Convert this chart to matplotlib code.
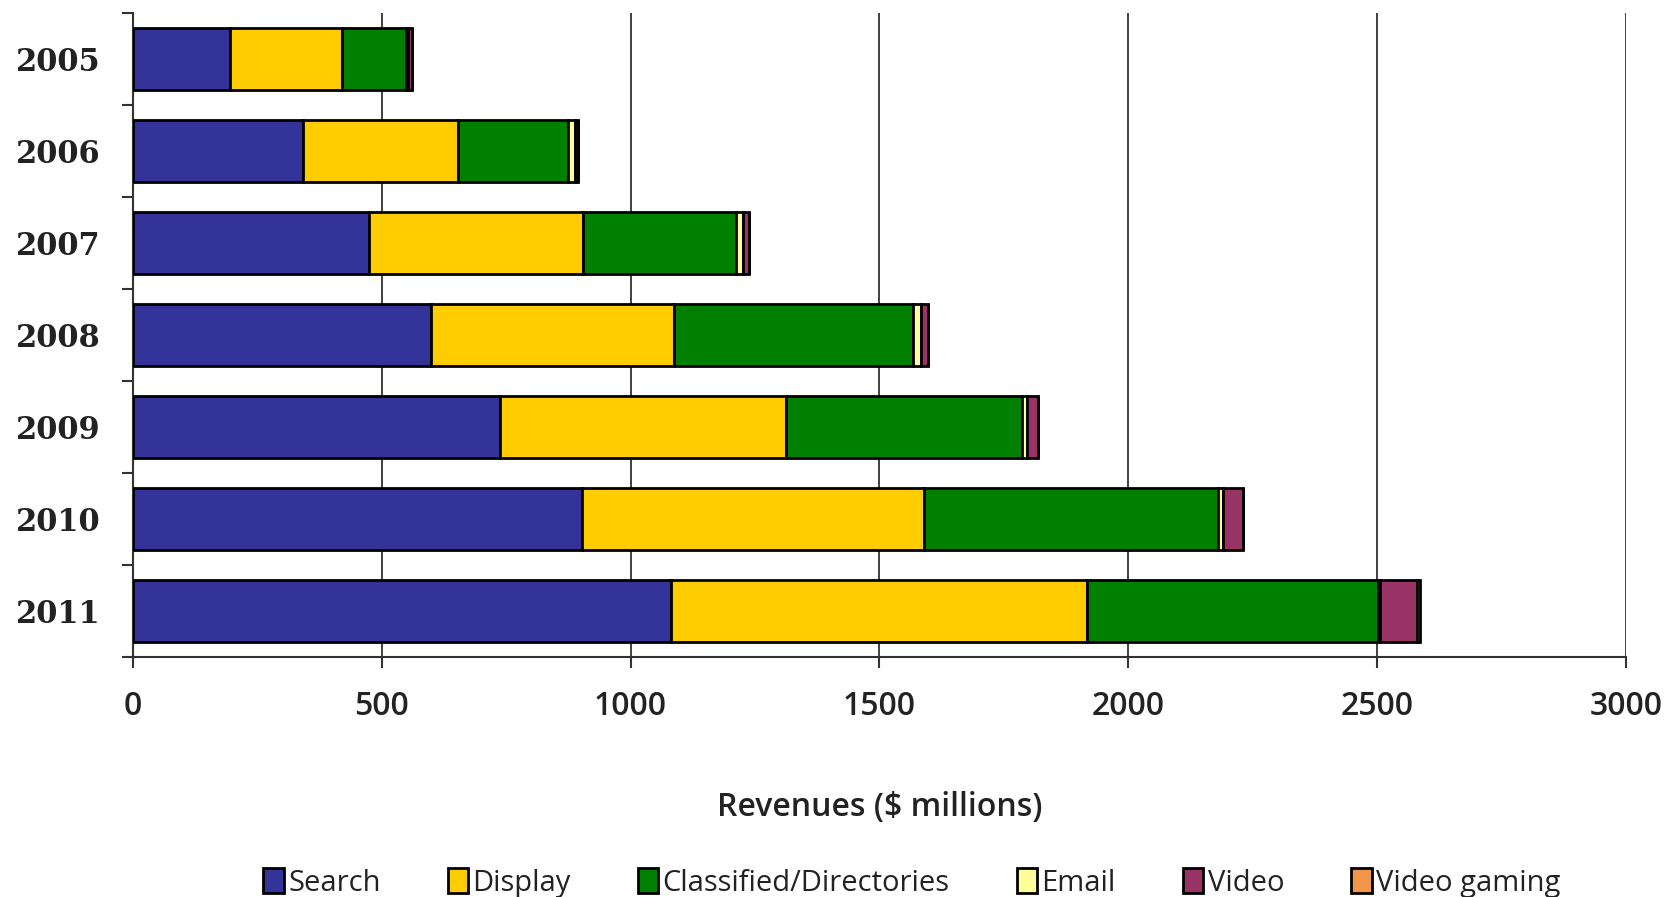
import numpy as np
import matplotlib.pyplot as plt

# revenue by segment ($ millions)
years = ['2005', '2006', '2007', '2008', '2009', '2010', '2011']
search = [195, 342, 475, 599, 738, 903, 1081]
display = [226, 311, 430, 488, 574, 687, 836]
classified = [127, 222, 306, 481, 475, 590, 584]
email = [5, 14, 14, 15, 9, 11, 4]
video = [8, 6, 12, 15, 23, 39, 75]
video_gaming = [0, 0, 0, 0, 0, 0, 6]

series = [
    ('Search', search, '#333399'),
    ('Display', display, '#FFCC00'),
    ('Classified/Directories', classified, '#008000'),
    ('Email', email, '#FFFF99'),
    ('Video', video, '#993366'),
    ('Video gaming', video_gaming, '#F0954A'),
]

fig = plt.figure(figsize=(16.7, 8.97), dpi=100)
ax = fig.add_axes([0.0796, 0.2676, 0.894, 0.718])

y = np.arange(len(years))
left = np.zeros(len(years))
handles = []
for name, vals, color in series:
    vals = np.array(vals, dtype=float)
    b = ax.barh(y, vals, left=left, height=0.67, color=color,
                edgecolor='black', linewidth=2, zorder=3, label=name)
    handles.append(b)
    left += vals

ax.set_xlim(0, 3000)
ax.set_ylim(len(years) - 0.5, -0.5)
ax.set_xticks(np.arange(0, 3001, 500))
ax.set_yticks(y)
ax.set_yticklabels(years, fontsize=22, fontweight='bold', family='DejaVu Serif',
                   color='#222222')
ax.set_yticks(np.arange(-0.5, len(years), 1), minor=True)
ax.tick_params(axis='y', which='major', length=0, pad=23)
ax.tick_params(axis='y', which='minor', length=8, width=1.5, color='#333333')
ax.tick_params(axis='x', length=8, width=1.5, labelsize=23, pad=16,
               color='#333333', labelcolor='#222222')
for lab in ax.get_xticklabels():
    lab.set_family('Open Sans')
    lab.set_fontweight('semibold')

ax.grid(axis='x', color='#333333', linewidth=1.3, zorder=0)
for s in ['top', 'right']:
    ax.spines[s].set_visible(False)
for s in ['left', 'bottom']:
    ax.spines[s].set_linewidth(1.5)
    ax.spines[s].set_color('#333333')

ax.set_xlabel('Revenues ($ millions)', fontsize=23, family='Open Sans',
              fontweight='semibold', color='#222222', labelpad=49)

fig.legend(handles=handles, loc='lower center', bbox_to_anchor=(0.546, -0.03),
           ncol=6, frameon=False, handlelength=0.7,
           handleheight=0.9, handletextpad=0.15, columnspacing=2.3,
           labelcolor='#222222',
           prop={'family': 'Open Sans', 'size': 21})

fig.savefig('out.png', dpi=100)
